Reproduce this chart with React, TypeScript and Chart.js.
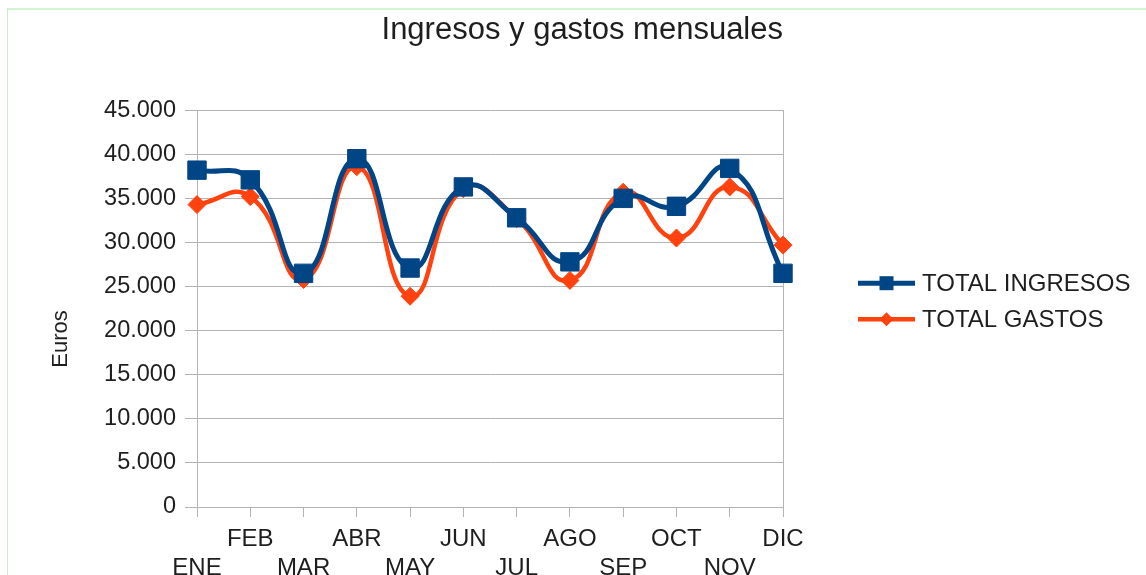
import React, { useEffect, useRef } from "react";
import { Chart, registerables } from "chart.js";

Chart.register(...registerables);

const months = ["ENE", "FEB", "MAR", "ABR", "MAY", "JUN", "JUL", "AGO", "SEP", "OCT", "NOV", "DIC"];
const totalIngresos = [38200, 37100, 26500, 39500, 27100, 36300, 32800, 27800, 35000, 34100, 38400, 26500];
const totalGastos = [34300, 35200, 25800, 38600, 23900, 36100, 32700, 25700, 35700, 30500, 36300, 29700];
const seriesLabels = ["TOTAL INGRESOS", "TOTAL GASTOS"];
const chartTitle = "Ingresos y gastos mensuales";
const yAxisTitle = "Euros";

const FONT = "'Liberation Sans', Arial, sans-serif";
const TEXT = "#1e1e1e";
const GRID = "#b3b3b3";
const BLUE = "#004586";
const ORANGE = "#ff420e";

const fmt = (v: number) => String(v).replace(/\B(?=(\d{3})+(?!\d))/g, ".");

const sidePlugin = {
  id: "sideDecor",
  afterDraw(chart: any) {
    const ctx = chart.ctx;
    const area = chart.chartArea;
    ctx.save();
    // y axis title
    ctx.font = `22px ${FONT}`;
    ctx.fillStyle = TEXT;
    ctx.textAlign = "center";
    ctx.textBaseline = "middle";
    ctx.translate(61, area.bottom - 168);
    ctx.rotate(-Math.PI / 2);
    ctx.fillText(yAxisTitle, 0, 0);
    ctx.restore();

    // legend
    ctx.save();
    const x0 = area.right + 75;
    const x1 = x0 + 57;
    const yStart = area.top + 173;
    chart.data.datasets.forEach((ds: any, i: number) => {
      const y = yStart + i * 36;
      ctx.strokeStyle = ds.borderColor;
      ctx.lineWidth = ds.borderWidth;
      ctx.beginPath();
      ctx.moveTo(x0, y);
      ctx.lineTo(x1, y);
      ctx.stroke();
      const cx = (x0 + x1) / 2;
      ctx.fillStyle = ds.pointBackgroundColor;
      ctx.beginPath();
      if (ds.pointStyle === "rect") {
        ctx.rect(cx - 7, y - 7, 14, 14);
      } else {
        ctx.moveTo(cx, y - 7);
        ctx.lineTo(cx + 7, y);
        ctx.lineTo(cx, y + 7);
        ctx.lineTo(cx - 7, y);
        ctx.closePath();
      }
      ctx.fill();
      ctx.fillStyle = TEXT;
      ctx.font = `24px ${FONT}`;
      ctx.textAlign = "left";
      ctx.textBaseline = "middle";
      ctx.fillText(ds.label, x1 + 7, y + 1);
    });
    ctx.restore();
  },
};

export default function App() {
  const ref = useRef<HTMLCanvasElement>(null);

  useEffect(() => {
    if (!ref.current) return;
    const chart = new Chart(ref.current, {
      type: "line",
      data: {
        labels: months,
        datasets: [
          {
            label: seriesLabels[0],
            data: totalIngresos,
            borderColor: BLUE,
            backgroundColor: BLUE,
            pointBackgroundColor: BLUE,
            pointBorderColor: BLUE,
            borderWidth: 5,
            pointStyle: "rect",
            pointRadius: 13,
            pointBorderWidth: 1,
            tension: 0.5,
          },
          {
            label: seriesLabels[1],
            data: totalGastos,
            borderColor: ORANGE,
            backgroundColor: ORANGE,
            pointBackgroundColor: ORANGE,
            pointBorderColor: ORANGE,
            borderWidth: 4.5,
            pointStyle: "rectRot",
            pointRadius: 9,
            pointBorderWidth: 1,
            tension: 0.5,
          },
        ],
      },
      options: {
        responsive: false,
        animation: false,
        layout: { padding: { left: 0, right: 363, top: 0, bottom: 0 } },
        plugins: {
          legend: { display: false },
          tooltip: { enabled: false },
          title: {
            display: true,
            text: chartTitle,
            align: "end",
            color: TEXT,
            font: { family: FONT, size: 31, weight: "normal" },
            padding: { top: 12, bottom: 61 },
          },
        },
        scales: {
          x: {
            offset: false,
            afterFit: (s: any) => {
              s.height = 68;
            },
            border: { color: GRID, width: 1 },
            grid: {
              color: (c: any) => (c.index === months.length - 1 ? GRID : "rgba(0,0,0,0)"),
              tickColor: GRID,
              tickLength: 10,
              drawOnChartArea: true,
            },
            ticks: {
              autoSkip: false,
              maxRotation: 0,
              minRotation: 0,
              padding: 8,
              color: TEXT,
              font: { family: FONT, size: 24 },
              callback: (_v: any, i: number) => (i % 2 === 0 ? ["", months[i]] : [months[i]]),
            },
          },
          y: {
            min: 0,
            max: 45000,
            afterFit: (s: any) => {
              s.width = 197;
            },
            border: { color: GRID, width: 1 },
            grid: { color: GRID, tickColor: GRID, tickLength: 12 },
            ticks: {
              stepSize: 5000,
              padding: 9,
              color: TEXT,
              font: { family: FONT, size: 23.5 },
              callback: (v: any) => fmt(Number(v)),
            },
          },
        },
      },
      plugins: [sidePlugin],
    });
    return () => chart.destroy();
  }, []);

  return (
    <div style={{ position: "fixed", left: 0, top: 0, width: 1146, height: 575, background: "#fff", overflow: "hidden" }}>
      <div
        style={{
          position: "absolute",
          left: 7,
          top: 8,
          width: 1300,
          height: 800,
          borderLeft: "1px solid #c8efc4",
          borderTop: "2px solid #d2f5d0",
        }}
      />
      <canvas ref={ref} width={1146} height={575} style={{ position: "absolute", left: 0, top: 0, display: "block" }} />
    </div>
  );
}
